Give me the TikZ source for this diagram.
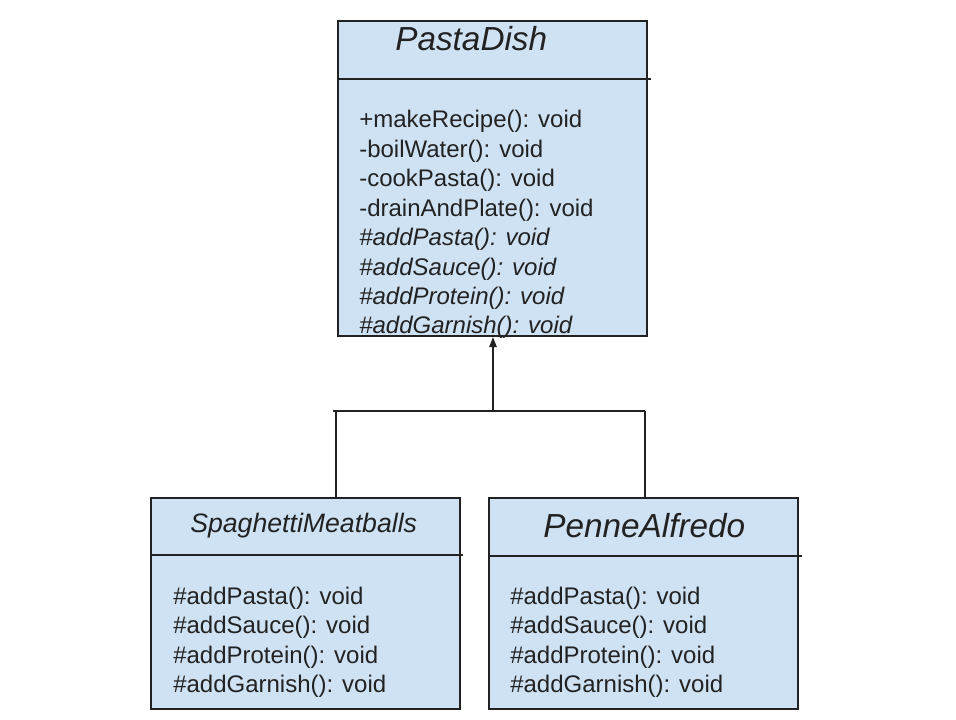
\documentclass[tikz,border=0pt]{standalone}
\usepackage{fontspec}
\setmainfont{Liberation Sans}
\usetikzlibrary{arrows.meta}
\definecolor{classfill}{HTML}{CFE2F3}
\definecolor{ink}{HTML}{222222}
\begin{document}
\begin{tikzpicture}[x=0.75pt,y=-0.75pt,
  classbox/.style={draw=ink,fill=classfill,line width=1.5pt,rectangle,
    anchor=north west,inner sep=0pt,minimum width=309*0.75pt},
  divider/.style={draw=ink,line width=1.2pt},
  member/.style={anchor=base west,inner sep=0pt,text=ink,font=\fontsize{18}{20}\selectfont},
  abstractmember/.style={member,font=\fontsize{18}{20}\selectfont\itshape},
  title/.style={anchor=base west,inner sep=0pt,text=ink,font=\fontsize{25}{28}\selectfont\itshape},
  link/.style={draw=ink,line width=1.1pt},
  inherit/.style={link,-{Triangle[length=7.5pt,width=5.5pt]}}]
\useasboundingbox (0,0) rectangle (956,719);

% class boxes
\node[classbox,minimum height=315*0.75pt] (pasta) at (337,20) {};
\node[classbox,minimum height=211*0.75pt] (spag) at (150,497) {};
\node[classbox,minimum height=211*0.75pt] (penne) at (488,497) {};

% compartment dividers
\coordinate (pd) at (651,79);
\draw[divider] (pasta.west |- pd) -- (pd);
\coordinate (sd) at (463,555);
\draw[divider] (spag.west |- sd) -- (sd);
\coordinate (ad) at (802,556);
\draw[divider] (penne.west |- ad) -- (ad);

% PastaDish
\node[title] (pastaname) at (395,50) {PastaDish};
\node[member] (m1) at (359,127.5) {+makeRecipe(): void};
\node[member] (m2) at (359,157) {-boilWater(): void};
\node[member] (m3) at (359,186.5) {-cookPasta(): void};
\node[member] (m4) at (359,216) {-drainAndPlate(): void};
\node[abstractmember] (m5) at (359,245.5) {\#addPasta(): void};
\node[abstractmember] (m6) at (359,275) {\#addSauce(): void};
\node[abstractmember] (m7) at (359,304) {\#addProtein(): void};
\node[abstractmember] (m8) at (359,333) {\#addGarnish(): void};

% SpaghettiMeatballs
\node[title,font=\fontsize{20}{24}\selectfont\itshape] (spagname) at (190,532) {SpaghettiMeatballs};
\node[member] (s1) at (173,604) {\#addPasta(): void};
\node[member] (s2) at (173,633.5) {\#addSauce(): void};
\node[member] (s3) at (173,663) {\#addProtein(): void};
\node[member] (s4) at (173,692.5) {\#addGarnish(): void};

% PenneAlfredo
\node[title] (pennename) at (543,537) {PenneAlfredo};
\node[member] (p1) at (510,604) {\#addPasta(): void};
\node[member] (p2) at (510,633.5) {\#addSauce(): void};
\node[member] (p3) at (510,663) {\#addProtein(): void};
\node[member] (p4) at (510,692.5) {\#addGarnish(): void};

% generalization
\coordinate (jm) at (493,411);
\coordinate (jl) at (336,411);
\coordinate (jr) at (645,411);
\coordinate (jle) at (333,411);
\draw[inherit] (jm) -- (jm |- pasta.south);
\draw[link] (jle) -- (jr);
\draw[link] (jl) -- (jl |- spag.north);
\draw[link] (jr) -- (jr |- penne.north);
\end{tikzpicture}
\end{document}
